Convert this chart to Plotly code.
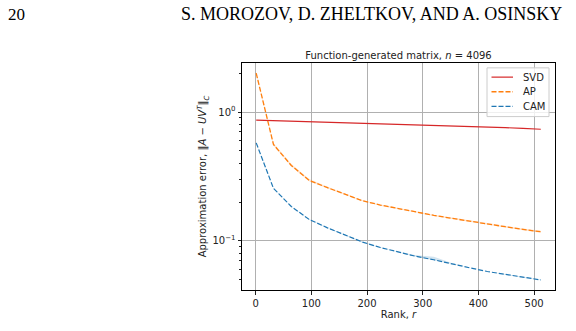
import plotly.graph_objects as go

ranks = [1, 32, 64, 96, 128, 160, 192, 224, 256, 288, 320, 352, 384, 416, 448, 480, 512]
svd_err = [0.865, 0.857, 0.850, 0.843, 0.836, 0.829, 0.822, 0.815, 0.808, 0.801, 0.794, 0.787, 0.780, 0.768, 0.757, 0.746, 0.735]
ap_err = [2.0, 0.56, 0.385, 0.295, 0.26, 0.23, 0.205, 0.19, 0.178, 0.167, 0.158, 0.150, 0.142, 0.135, 0.129, 0.123, 0.118]
ap_upper = [2.05, 0.575, 0.395, 0.302, 0.264, 0.233, 0.207, 0.192, 0.180, 0.169, 0.160, 0.152, 0.144, 0.137, 0.131, 0.125, 0.120]
ap_lower = [1.95, 0.55, 0.378, 0.290, 0.256, 0.227, 0.203, 0.188, 0.176, 0.165, 0.156, 0.148, 0.140, 0.133, 0.127, 0.121, 0.116]
cam_err = [0.576, 0.256, 0.185, 0.147, 0.127, 0.111, 0.098, 0.089, 0.082, 0.076, 0.0715, 0.067, 0.062, 0.058, 0.055, 0.052, 0.0499]
cam_upper = [0.580, 0.258, 0.186, 0.148, 0.128, 0.112, 0.099, 0.0895, 0.0825, 0.0775, 0.0755, 0.0675, 0.0623, 0.0583, 0.0553, 0.0522, 0.0501]
cam_lower = [0.572, 0.254, 0.184, 0.146, 0.126, 0.110, 0.097, 0.0885, 0.0815, 0.0755, 0.0710, 0.0665, 0.0617, 0.0577, 0.0547, 0.0518, 0.0497]

series_names = ["SVD", "AP", "CAM"]
x_ticks = [0, 100, 200, 300, 400, 500]
y_ticks = [0.1, 1]
y_ticktext = ["10<sup>−1</sup>", "10<sup>0</sup>"]
y_minor = [0.05, 0.06, 0.07, 0.08, 0.09, 0.2, 0.3, 0.4, 0.5, 0.6, 0.7, 0.8, 0.9, 2.0]

RED = "#d62728"
ORANGE = "#ff7f0e"
BLUE = "#1f77b4"
DASH = "5px,2px"
styles = [dict(color=RED, width=1.2), dict(color=ORANGE, width=1.3, dash=DASH),
          dict(color=BLUE, width=1.2, dash=DASH)]

fig = go.Figure()

def band(x, lo, hi, color):
    fig.add_trace(go.Scatter(x=x, y=hi, mode="lines", line=dict(width=0), showlegend=False, hoverinfo="skip"))
    fig.add_trace(go.Scatter(x=x, y=lo, mode="lines", line=dict(width=0), fill="tonexty",
                             fillcolor=color, showlegend=False, hoverinfo="skip"))

band(ranks, ap_lower, ap_upper, "rgba(255,127,14,0.2)")
band(ranks, cam_lower, cam_upper, "rgba(31,119,180,0.2)")

for name, vals, st in zip(series_names, [svd_err, ap_err, cam_err], styles):
    fig.add_trace(go.Scatter(x=ranks, y=vals, mode="lines", name=name, line=st, showlegend=False))

TXT = "#222"
fig.update_layout(
    width=576, height=331,
    margin=dict(l=242, r=21, t=63, b=35),
    paper_bgcolor="white", plot_bgcolor="white",
    font=dict(family="DejaVu Sans", size=10, color=TXT),
    showlegend=False,
    title=dict(text="Function-generated matrix, <i>n</i> = 4096",
               x=0.5, xref="paper", xanchor="center",
               y=1, yref="paper", yanchor="bottom", pad=dict(b=4),
               font=dict(family="DejaVu Sans", size=10, color=TXT)),
    xaxis=dict(range=[-24.5, 537.5], tickvals=x_ticks, ticks="outside", ticklen=3.5,
               tickcolor=TXT, showline=True, linecolor="black", linewidth=1, mirror=True,
               showgrid=True, gridcolor="#b0b0b0", gridwidth=0.8, zeroline=False,
               tickfont=dict(size=10),
               title=dict(text="Rank, <i>r</i>", standoff=3, font=dict(size=10))),
    yaxis=dict(type="log", range=[-1.38, 0.38], tickvals=y_ticks, ticktext=y_ticktext,
               ticks="outside", ticklen=3.5, tickcolor=TXT,
               showline=True, linecolor="black", linewidth=1, mirror=True,
               showgrid=True, gridcolor="#b0b0b0", gridwidth=0.8, zeroline=False,
               tickfont=dict(size=10),
               minor=dict(ticks="outside", ticklen=2, tickcolor=TXT, showgrid=False,
                          tickvals=y_minor),
               title=dict(text="Approximation error, ‖<i>A</i> − <i>UV</i><sup><i>T</i></sup>‖<sub><i>C</i></sub>",
                          standoff=3, font=dict(size=10))),
)

plot_l, plot_r, plot_t, plot_b = 242, 555, 63, 296
def px(pxx, pyy):
    return (pxx - plot_l) / (plot_r - plot_l), (plot_b - pyy) / (plot_b - plot_t)

# legend (drawn manually to match compact matplotlib spacing)
x0, y0 = px(487, 68)
x1, y1 = px(549, 118)
fig.add_shape(type="rect", xref="paper", yref="paper", x0=x0, x1=x1, y0=y1, y1=y0,
              line=dict(color="#cccccc", width=1), fillcolor="rgba(255,255,255,0.8)", layer="above")
for i, (name, st) in enumerate(zip(series_names, styles)):
    yy = 77.5 + 15 * i
    lx0, ly = px(491.5, yy)
    lx1, _ = px(513, yy)
    fig.add_shape(type="line", xref="paper", yref="paper", x0=lx0, x1=lx1, y0=ly, y1=ly,
                  line=st, layer="above")
    tx, _ = px(521, yy)
    fig.add_annotation(text=name, x=tx, y=ly, xref="paper", yref="paper",
                       xanchor="left", yanchor="middle", showarrow=False,
                       font=dict(family="DejaVu Sans", size=10, color=TXT))

hx, hy = px(5.5, 13)
fig.add_annotation(text="20", x=hx, y=hy, xref="paper", yref="paper",
                   xanchor="left", yanchor="middle", showarrow=False,
                   font=dict(family="Liberation Serif", size=17, color="black"))
hx2, hy2 = px(179, 13)
fig.add_annotation(text="S. MOROZOV, D. ZHELTKOV, AND A. OSINSKY", x=hx2, y=hy2,
                   xref="paper", yref="paper", xanchor="left", yanchor="middle",
                   showarrow=False,
                   font=dict(family="Liberation Serif", size=18, color="black"))

fig.write_html("out.html")
